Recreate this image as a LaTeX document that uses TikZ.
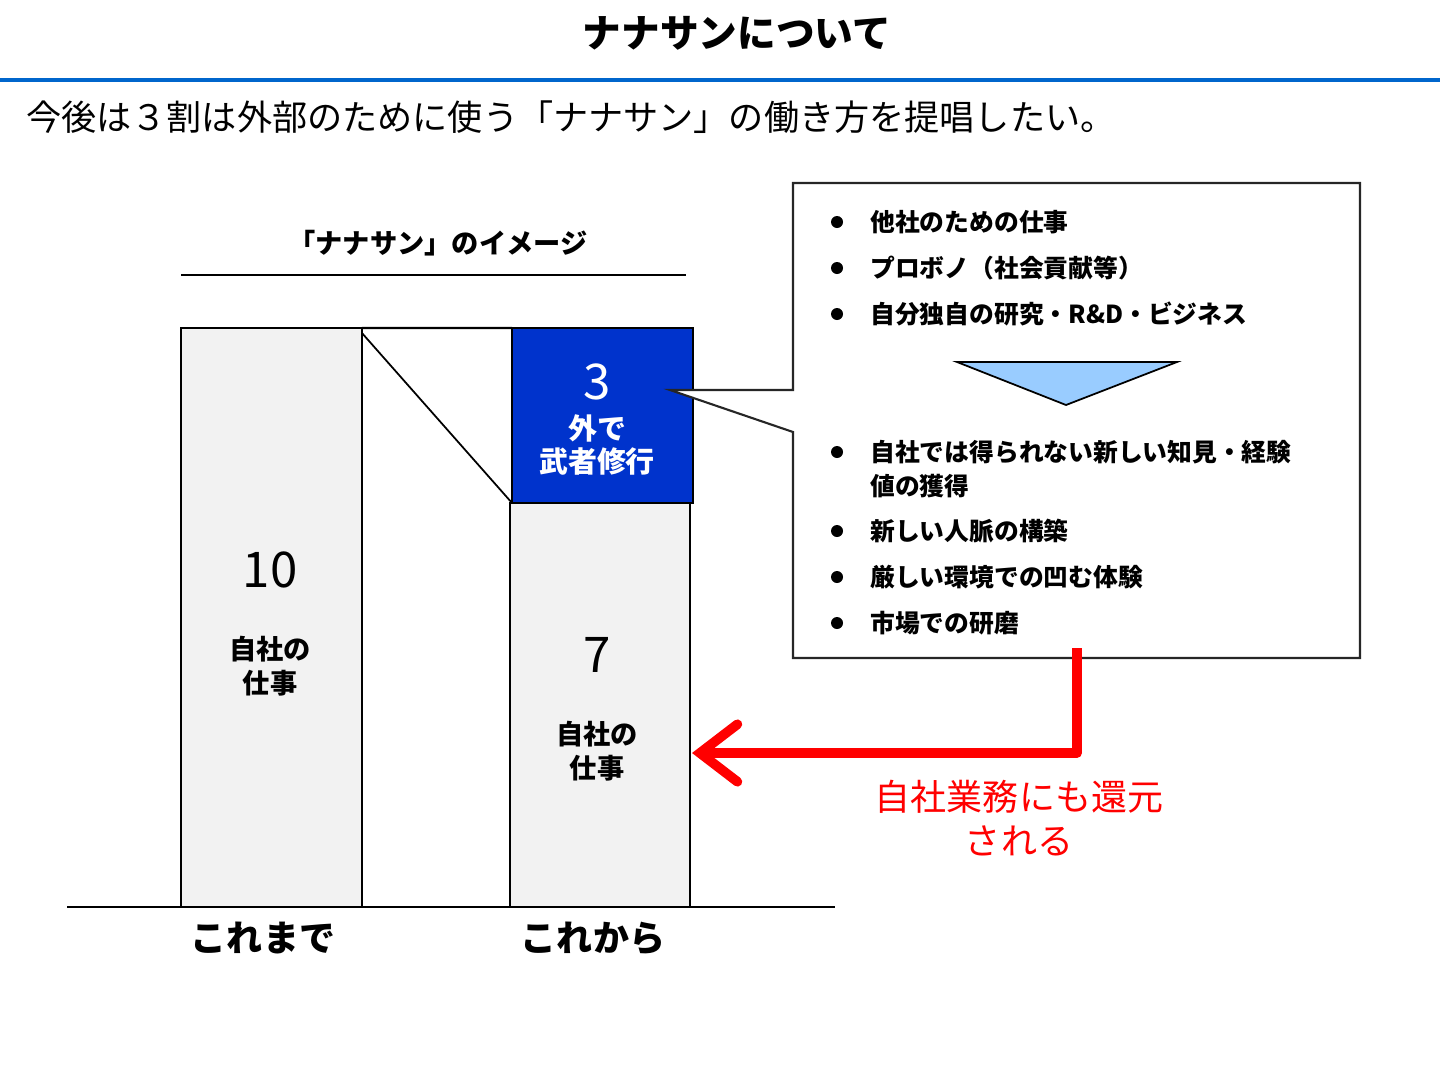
\documentclass[tikz,border=0pt]{standalone}
\usepackage{fontspec}
\setmainfont{Noto Sans CJK JP}
\definecolor{ninjablue}{RGB}{0, 51, 204}
\definecolor{rulerblue}{RGB}{0, 102, 204}
\definecolor{barfill}{RGB}{242, 242, 242}
\definecolor{tipblue}{RGB}{153, 204, 255}
\definecolor{returnred}{RGB}{255, 0, 0}
\usepackage{tikz}
\usetikzlibrary{arrows.meta, positioning}

\begin{document}
\begin{tikzpicture}[x=0.02cm, y=-0.02cm,
    bar/.style={draw, line width=1.3pt, fill=barfill, inner sep=0pt, outer sep=0pt},
    numtext/.style={font=\fontsize{28}{32}\selectfont},
    worktext/.style={font=\bfseries\fontsize{15.5}{19.3}\selectfont, align=center},
    axistext/.style={font=\bfseries\fontsize{20.5}{24}\selectfont},
    gaintext/.style={anchor=west, inner sep=0pt, font=\bfseries\fontsize{14.1}{19}\selectfont}]
                    \useasboundingbox (0,0) rectangle (1440,1082);

                    % Title
                    \node[font=\bfseries\fontsize{22}{26}\selectfont] (title) at (737,33) {ナナサンについて};
                    \draw[rulerblue, line width=2.3pt] (0,80) -- (1440,80);
                    \node[anchor=west, font=\fontsize{20}{24}\selectfont] (lead) at (20,117) {今後は３割は外部のために使う「ナナサン」の働き方を提唱したい。};

                    % Image heading
                    \node[font=\bfseries\fontsize{15.5}{18}\selectfont] (imghead) at (438,243) {「ナナサン」のイメージ};
                    \draw[line width=1.3pt] (181,275) -- (686,275);

                    % Bars
                    \node[bar, minimum width=3.62cm, minimum height=11.58cm] (past) at (271.5,617.5) {};
                    \node[bar, minimum width=3.6cm, minimum height=8.08cm] (future) at (600,705) {};
                    \node[bar, fill=ninjablue, minimum width=3.62cm, minimum height=3.5cm] (ninja) at (602.5,415.5) {};
                    \draw[line width=1.3pt] (past.north east) -- (ninja.north west);
                    \draw[line width=1pt] ([yshift=-0.1cm]past.north east) -- (ninja.south west);
                    \coordinate (axisleft) at (67,907);
                    \coordinate (axisright) at (835,907);
                    \draw[line width=1.3pt] (axisleft) -- (axisright);

                    % Bar texts
                    \node[numtext] (pastnum) at (270,570) {10};
                    \node[worktext] (pastwork) at (270,666) {自社の\\仕事};
                    \node[numtext] (futurenum) at (597,655) {7};
                    \node[worktext] (futurework) at (597,751) {自社の\\仕事};
                    \node[numtext, white] (ninjanum) at (597,382) {3};
                    \node[worktext, white, font=\bfseries\fontsize{16.5}{19.3}\selectfont] (ninjawork) at (597,445) {外で\\武者修行};
                    \node[axistext] (pastlabel) at (263,938) {これまで};
                    \node[axistext] (futurelabel) at (593,938) {これから};

                    % Callout
                    \draw[line width=1.2pt, draw=black!85, fill=white] (793,183) -- (1360,183) -- (1360,658) -- (793,658)
                        -- (793,432) -- (670,390) -- (793,390) -- cycle;
                    \foreach \y/\txt [count=\i] in {222/他社のための仕事, 268/プロボノ（社会貢献等）, 314/自分独自の研究・R\&D・ビジネス,
                        452/自社では得られない新しい知見・経験, 531/新しい人脈の構築, 577/厳しい環境での凹む体験, 623/市場での研磨} {
                        \fill (837,\y) circle (6);
                        \node[gaintext] (gain\i) at (870,\y) {\txt};
                    }
                    \node[gaintext] (gaincont) at (870,486) {値の獲得};
                    \draw[line width=1pt, fill=tipblue] (957,362) -- (1177,362) -- (1066,405) -- cycle;

                    % Return arrow
                    \coordinate (retstart) at (1077,648);
                    \coordinate (rettip) at (692,753);
                    \draw[returnred, line width=5.5pt, line join=round,
                        -{Straight Barb[length=0.75cm, width=1.15cm, line cap=round]}] (retstart) |- (rettip);
                    \node[returnred, align=center, font=\fontsize{20.5}{25}\selectfont] (returnnote) at (1019,818) {自社業務にも還元\\される};
                \end{tikzpicture}
\end{document}
